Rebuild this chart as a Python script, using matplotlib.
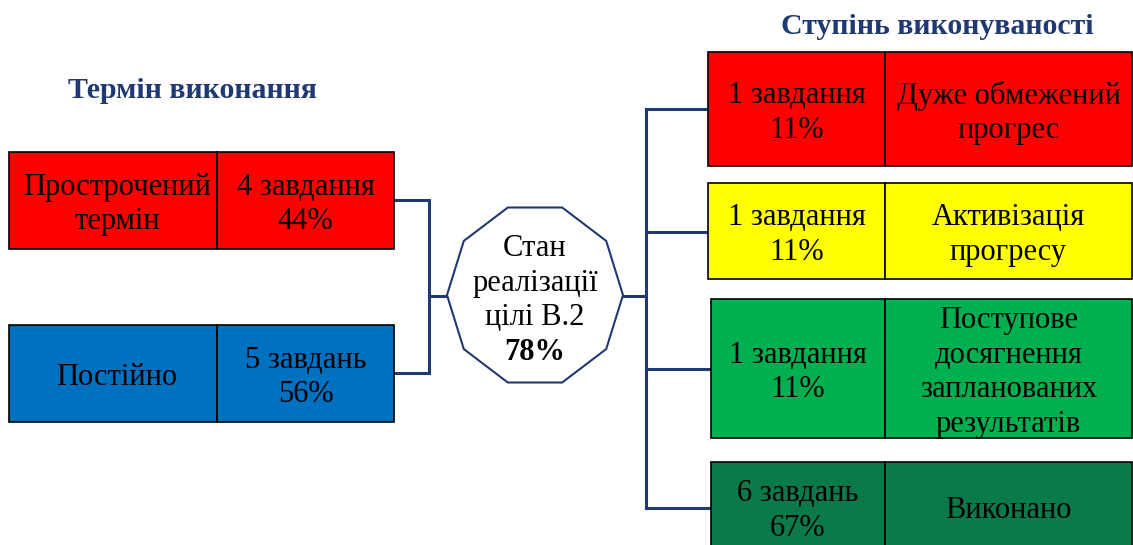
import matplotlib.pyplot as plt
from matplotlib.patches import Rectangle, Polygon
import numpy as np

# data
left_title = "Термін виконання"
left_labels = ["Прострочений\nтермін", "Постійно"]
left_counts = ["4 завдання", "5 завдань"]
left_pcts = [44, 56]

right_title = "Ступінь виконуваності"
right_counts = ["1 завдання", "1 завдання", "1 завдання", "6 завдань"]
right_pcts = [11, 11, 11, 67]
right_labels = ["Дуже обмежений\nпрогрес", "Активізація\nпрогресу",
                "Поступове\nдосягнення\nзапланованих\nрезультатів", "Виконано"]

center_label = "Стан\nреалізації\nцілі В.2"
center_pct = 78

# styles / layout (pixel coords, y down)
left_colors = ["#FF0000", "#0070C0"]
right_colors = ["#FF0000", "#FFFF00", "#00B050", "#0A7A4B"]
navy = "#1F3A72"
FONT = "Liberation Serif"
FS = 22
LS = 1.26
YOFF = 4  # va=center counts descenders, nudge text down

left_boxes = [(9, 152, 249), (9, 325, 422)]  # x0, top, bottom
left_div, left_right = 217, 394
right_boxes = [(708, 52, 166), (708, 183, 279), (711, 299, 438), (711, 462, 552)]
right_div, right_right = 885, 1132

fig = plt.figure(figsize=(11.33, 5.45), dpi=100)
ax = fig.add_axes([0, 0, 1, 1])
ax.set_xlim(0, 1133)
ax.set_ylim(545, 0)
ax.axis("off")


def box(x0, x1, top, bottom, color):
    ax.add_patch(Rectangle((x0, top), x1 - x0, bottom - top, facecolor=color,
                           edgecolor="black", lw=1.2, zorder=2))


def label(x, y, s, **kw):
    ax.text(x, y + YOFF, s, ha="center", va="center", fontsize=FS, family=FONT,
            linespacing=LS, zorder=3, **kw)


# left side
for (x0, top, bot), lab, cnt, pct, col in zip(left_boxes, left_labels, left_counts, left_pcts, left_colors):
    box(x0, left_div, top, bot, col)
    box(left_div, left_right, top, bot, col)
    ym = (top + bot) / 2
    label((x0 + left_div) / 2 + 4, ym, lab)
    label((left_div + left_right) / 2, ym, f"{cnt}\n{pct}%")

ax.text(192, 91, left_title, ha="center", va="center", fontsize=21.5, fontweight="bold",
        family=FONT, color=navy)
ax.text(937, 27, right_title, ha="center", va="center", fontsize=21.5, fontweight="bold",
        family=FONT, color=navy)

# left connector
lx = 429
y1, y2 = 200, 373
ax.plot([left_right, lx, lx, left_right], [y1, y1, y2, y2], color=navy, lw=2.2,
        solid_joinstyle="miter", zorder=1)
ax.plot([lx, 447], [296, 296], color=navy, lw=2.2, zorder=1)

# decagon
cx, cy, rx, ry = 535, 295, 88, 92
ang = np.deg2rad(np.arange(0, 360, 36))
pts = np.column_stack([cx + rx * np.cos(ang), cy + ry * np.sin(ang)])
ax.add_patch(Polygon(pts, closed=True, facecolor="white", edgecolor=navy, lw=1.5, zorder=2))
label(cx, 279, center_label)
label(cx, 348, f"{center_pct}%", fontweight="bold")

# right connector
rx_line = 646
conn_y = [109, 232, 369, 508]
ax.plot([623, rx_line], [296, 296], color=navy, lw=2.2, zorder=1)
ax.plot([rx_line, rx_line], [conn_y[0], conn_y[-1]], color=navy, lw=2.2, zorder=1)
for (x0, top, bot), yc in zip(right_boxes, conn_y):
    ax.plot([rx_line, x0], [yc, yc], color=navy, lw=2.2, zorder=1)

# right boxes
for (x0, top, bot), cnt, pct, lab, col in zip(right_boxes, right_counts, right_pcts, right_labels, right_colors):
    box(x0, right_div, top, bot, col)
    box(right_div, right_right, top, bot, col)
    ym = (top + bot) / 2
    label((x0 + right_div) / 2, ym, f"{cnt}\n{pct}%")
    label((right_div + right_right) / 2, ym, lab)

fig.savefig("out.png", dpi=100)
